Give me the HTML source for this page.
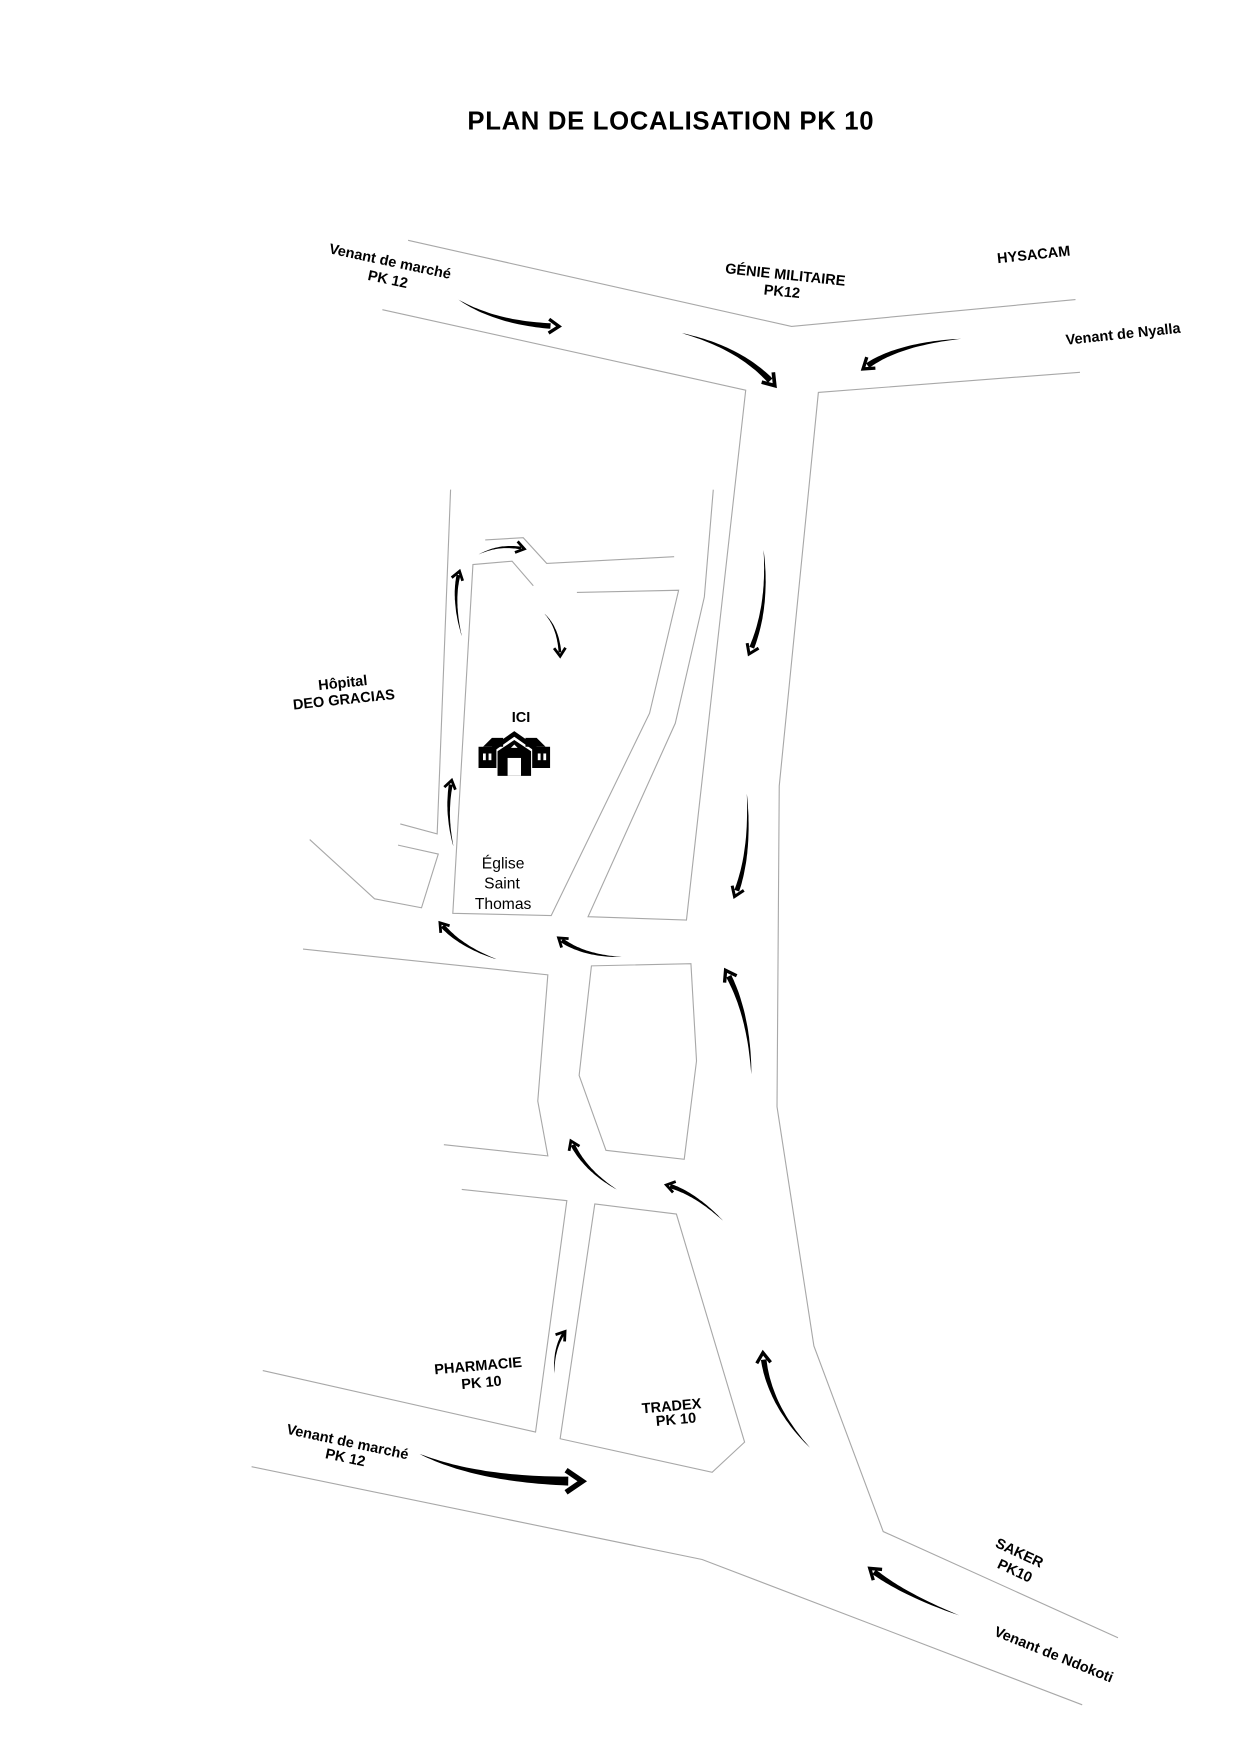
<!DOCTYPE html>
<html><head><meta charset="utf-8">
<style>
html,body{margin:0;padding:0;background:#fff;}
svg{display:block;}
text{font-family:"Liberation Sans",sans-serif;font-weight:bold;fill:#000;}
text.n{font-weight:normal;}
</style></head>
<body>
<svg id="s" xmlns="http://www.w3.org/2000/svg" width="1241" height="1754" viewBox="0 0 1110 1569">
<rect width="1110" height="1569" fill="#fff"/>
<g fill="none" stroke="#a8a8a8" stroke-width="1">
<polyline points="365,215 708,292 962,268"/>
<polyline points="342,277 667,349 614,823 526,820 604,647 630,534 638,438"/>
<polyline points="966,333 732,351 697,703 695,990 728,1204 790,1370 1000,1465"/>
<polyline points="434,483 468,481 489,504 603,498"/>
<polyline points="516,530 607,528 581,638 493,819 405,817 423,505 458,502 477,524"/>
<polyline points="403,438 391,746 358,737"/>
<polyline points="356,756 392,764 377,812 335,804 277,751"/>
<polyline points="271,849 490,872 481,985 490,1034 397,1024"/>
<polygon points="529,864 618,862 623,949 612,1037 542,1029 518,962"/>
<polyline points="413,1064 507,1074 479,1281 235,1226"/>
<polygon points="532,1077 605,1086 666,1290 637,1317 501,1287"/>
<polyline points="225,1312 628,1395 968,1525"/>
</g>
<g id="arrows"></g>
<text x="600" y="116" font-size="23" letter-spacing="0.6" text-anchor="middle">PLAN DE LOCALISATION PK 10</text>
<g font-size="13" text-anchor="middle">
<text transform="translate(348,238) rotate(12)">Venant de marché</text>
<text transform="translate(346,254) rotate(12)">PK 12</text>
<text transform="translate(702,250) rotate(6)">GÉNIE MILITAIRE</text>
<text transform="translate(699,265) rotate(6)">PK12</text>
<text transform="translate(925,232) rotate(-6)">HYSACAM</text>
<text transform="translate(1005,303) rotate(-6)">Venant de Nyalla</text>
<text transform="translate(307,615) rotate(-6)">Hôpital</text>
<text transform="translate(308,630) rotate(-6)">DEO GRACIAS</text>
<text x="466" y="646">ICI</text>
<text transform="translate(428,1226) rotate(-5)">PHARMACIE</text>
<text transform="translate(431,1241) rotate(-5)">PK 10</text>
<text transform="translate(601,1262) rotate(-5)">TRADEX</text>
<text transform="translate(605,1274) rotate(-5)">PK 10</text>
<text transform="translate(310,1294) rotate(12)">Venant de marché</text>
<text transform="translate(308,1308) rotate(12)">PK 12</text>
<text transform="translate(910,1393) rotate(25)">SAKER</text>
<text transform="translate(906,1409) rotate(25)">PK10</text>
<text transform="translate(941,1484) rotate(22)">Venant de Ndokoti</text>
</g>
<g font-size="14" text-anchor="middle">
<text class="n" x="450" y="777">Église</text>
<text class="n" x="449" y="795">Saint</text>
<text class="n" x="450" y="813">Thomas</text>
</g>
<g transform="translate(460,674)" fill="#000">
<polygon points="-28,-6 -20,-14 -10,-14 -10,-6"/>
<polygon points="28,-6 20,-14 10,-14 10,-6"/>
<rect x="-32" y="-6" width="16" height="19"/>
<rect x="16" y="-6" width="16" height="19"/>
<polygon points="0,-20 -20,-6 -17,-3 0,-15 17,-3 20,-6"/>
<polygon points="0,-12 -15,-2 -15,20 15,20 15,-2"/>
<rect x="-6" y="4" width="12" height="16" fill="#fff"/>
<rect x="-28" y="0" width="2.5" height="6" fill="#fff"/>
<rect x="-23" y="0" width="2.5" height="6" fill="#fff"/>
<rect x="21" y="0" width="2.5" height="6" fill="#fff"/>
<rect x="26" y="0" width="2.5" height="6" fill="#fff"/>
<polygon points="-3,-5 3,-5 0,-8" fill="#fff"/>
</g>
</svg>
<script>
var A=[
[410,268,445,290,500,292,5],
[610,298,665,312,693,345,5.5],
[860,303,800,308,772,330,5],
[683,492,688,545,670,585,4.5],
[668,710,672,765,657,802,4.5],
[413,569,404,535,411,511,3.5],
[428,496,448,486,469,491,2.5],
[487,549,500,562,501,587,2.5],
[405.5,757,398,725,404,698,3.5],
[444,858,410,846,393.5,825.5,4],
[556,856,520,855,499.6,839,4],
[672,961,670,905,649,868,5],
[551.6,1064,522,1046,510.6,1020.6,4],
[646.8,1092,620,1066,596,1060,4],
[495.8,1229,495,1205,505.4,1191,2.5],
[724.5,1295,686,1255,682.4,1210,5],
[375.3,1300.6,430,1325,520.8,1325,8],
[858,1445,805,1425,778,1403,5]
];
var g=document.getElementById('arrows'),out="";
A.forEach(function(a){
var sx=a[0],sy=a[1],cx=a[2],cy=a[3],tx=a[4],ty=a[5],w=a[6];
var L=[],R=[],N=30;
for(var i=0;i<=N;i++){var t=i/N*0.93;
var x=(1-t)*(1-t)*sx+2*(1-t)*t*cx+t*t*tx,y=(1-t)*(1-t)*sy+2*(1-t)*t*cy+t*t*ty;
var dx=2*(1-t)*(cx-sx)+2*t*(tx-cx),dy=2*(1-t)*(cy-sy)+2*t*(ty-cy),d=Math.hypot(dx,dy);
var nx=-dy/d,ny=dx/d,hw=w/2*Math.pow(t/0.93,0.8);
L.push((x+nx*hw).toFixed(1)+","+(y+ny*hw).toFixed(1));R.unshift((x-nx*hw).toFixed(1)+","+(y-ny*hw).toFixed(1));}
out+='<polygon fill="#000" points="'+L.join(" ")+" "+R.join(" ")+'"/>';
var dx=tx-cx,dy=ty-cy,d=Math.hypot(dx,dy);dx/=d;dy/=d;
var hl=Math.max(9,w*2.2),ang=0.6,sw=Math.max(2.5,w*0.6);
function rot(x,y,a){return [x*Math.cos(a)-y*Math.sin(a),x*Math.sin(a)+y*Math.cos(a)];}
var p1=rot(-dx,-dy,ang),p2=rot(-dx,-dy,-ang);
out+='<polyline fill="none" stroke="#000" stroke-width="'+sw+'" stroke-linejoin="miter" points="'+(tx+p1[0]*hl).toFixed(1)+","+(ty+p1[1]*hl).toFixed(1)+" "+tx+","+ty+" "+(tx+p2[0]*hl).toFixed(1)+","+(ty+p2[1]*hl).toFixed(1)+'"/>';
});
g.innerHTML=out;
</script>
</body></html>
